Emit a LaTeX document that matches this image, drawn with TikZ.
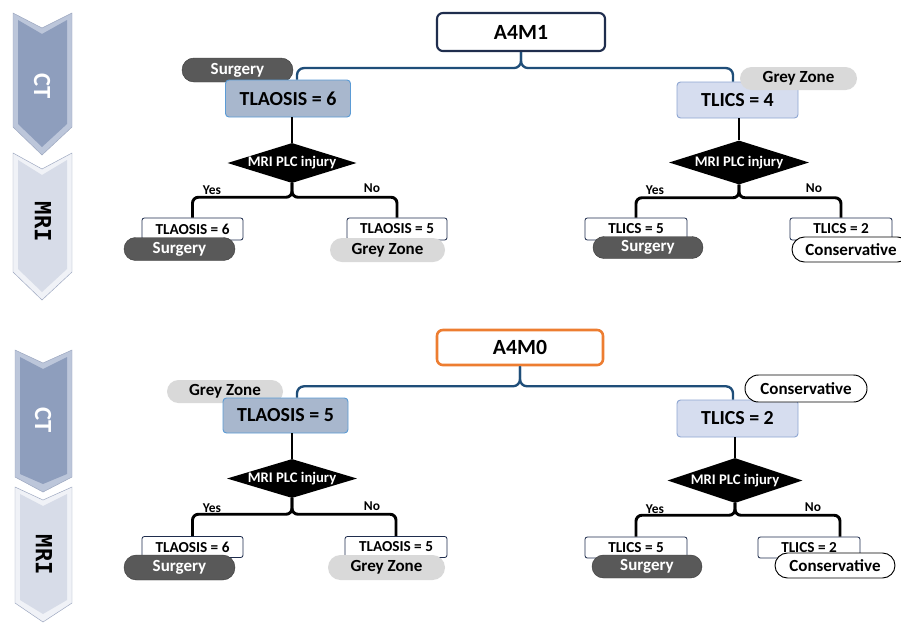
\documentclass[tikz,border=0pt]{standalone}
\usepackage{fontspec}
\setmainfont{Carlito}
\newfontfamily\mrifont{DejaVu Sans Mono}
\usetikzlibrary{shapes.geometric,shapes.misc}
\definecolor{ctblue}{HTML}{8E9EBD}
\definecolor{ctedge}{HTML}{BCC6DA}
\definecolor{mrifill}{HTML}{D7DCE8}
\definecolor{mriedge}{HTML}{F0F2F7}
\definecolor{chevline}{HTML}{9BA6BF}
\definecolor{navy}{HTML}{1F2D4D}
\definecolor{rootorange}{HTML}{ED7D31}
\definecolor{linkblue}{HTML}{1F4E79}
\definecolor{tlaofill}{HTML}{A8B7CD}
\definecolor{tlaoline}{HTML}{5B9BD5}
\definecolor{tlicsfill}{HTML}{D6DDEF}
\definecolor{tlicsline}{HTML}{8EA6D2}
\definecolor{surggrey}{HTML}{595959}
\definecolor{surgedge}{HTML}{3F3F3F}
\definecolor{zonegrey}{HTML}{D9D9D9}
\newcommand{\pxl}{0.03cm}
\begin{document}
\begin{tikzpicture}[x=\pxl,y=-\pxl,
  sz/.style 2 args={minimum width=#1*\pxl,minimum height=#2*\pxl},
  root/.style={draw,fill=white,rounded corners=5pt,inner sep=0pt,font=\bfseries\fontsize{18.5}{20}\selectfont},
  score/.style={draw,rounded corners=3pt,inner sep=0pt,line width=0.8pt,font=\bfseries\fontsize{17}{19}\selectfont},
  tlao/.style={score,fill=tlaofill,draw=tlaoline},
  tlics/.style={score,fill=tlicsfill,draw=tlicsline},
  res/.style={draw=navy,fill=white,rounded corners=2pt,inner sep=0pt,line width=0.7pt,font=\bfseries\fontsize{13}{15}\selectfont},
  pill/.style={rounded rectangle,inner sep=0pt,font=\bfseries\fontsize{14.5}{16}\selectfont},
  surg/.style={pill,fill=surggrey,draw=surgedge,text=white},
  grey/.style={pill,fill=zonegrey},
  cons/.style={pill,fill=white,draw=black,line width=0.8pt},
  decision/.style={diamond,fill=black,inner sep=0pt,label={[text=white,font=\bfseries\fontsize{12.5}{14}\selectfont]center:MRI PLC injury}},
  yn/.style={font=\bfseries\fontsize{11.5}{13}\selectfont},
  link/.style={draw=linkblue,line width=2pt,rounded corners=6pt},
  arm/.style={line width=2.5pt,rounded corners=5pt},
  ctlabel/.style={rotate=-90,text=white,font=\bfseries\fontsize{21}{23}\selectfont},
  mrilabel/.style={rotate=-90,font=\mrifont\bfseries\fontsize{19}{21}\selectfont}]
\useasboundingbox (0,0) rectangle (901,630);
\fill[white] (0,0) rectangle (901,630);

\filldraw[fill=ctedge,draw=chevline,thin] (13,13) -- (42,28) -- (72,13) -- (72,127) -- (42,155) -- (13,127) -- cycle;
\fill[ctblue] (18,20) -- (42,34) -- (67,20) -- (67,124) -- (42,147) -- (18,124) -- cycle;
\node[ctlabel] (ct1) at (42,86) {CT};
\filldraw[fill=mriedge,draw=chevline,thin] (13,153) -- (42,169) -- (72,153) -- (72,272) -- (42,300) -- (13,272) -- cycle;
\fill[mrifill] (18,160) -- (42,175) -- (67,160) -- (67,269) -- (42,292) -- (18,269) -- cycle;
\node[mrilabel] (mri1) at (43,222) {MRI};
\filldraw[fill=ctedge,draw=chevline,thin] (15,350) -- (43,363) -- (72,350) -- (72,477) -- (43,492) -- (15,477) -- cycle;
\fill[ctblue] (20,357) -- (43,369) -- (67,357) -- (67,474) -- (43,484) -- (20,474) -- cycle;
\node[ctlabel] (ct2) at (43,420) {CT};
\filldraw[fill=mriedge,draw=chevline,thin] (15,487) -- (43,500) -- (72,487) -- (72,603) -- (43,622) -- (15,603) -- cycle;
\fill[mrifill] (20,494) -- (43,506) -- (67,494) -- (67,600) -- (43,614) -- (20,600) -- cycle;
\node[mrilabel] (mri2) at (44,555) {MRI};

\node[root,draw=navy,line width=1.8pt,sz={168}{38}] (a4m1) at (521,32) {A4M1};
\node[surg,sz={111}{24}] (p1) at (237.5,70) {Surgery};
\node[tlao,sz={125}{37}] (t1) at (288,98.5) {TLAOSIS = 6};
\node[tlics,sz={121}{36}] (t2) at (737.5,100) {TLICS = 4};
\node[grey,sz={117}{23}] (p2) at (798.5,78.5) {Grey Zone};
\node[decision,sz={129}{40}] (d1) at (292,163) {};
\node[decision,sz={140}{44}] (d2) at (739,162.5) {};
\node[res,sz={101}{22}] (k1) at (192.5,229) {TLAOSIS = 6};
\node[surg,sz={111}{23}] (q1) at (179.5,249) {Surgery};
\node[res,sz={100}{22}] (k2) at (397,229) {TLAOSIS = 5};
\node[grey,sz={115}{24}] (q2) at (387.5,250) {Grey Zone};
\node[res,sz={102}{22}] (k3) at (636,229) {TLICS = 5};
\node[surg,sz={110}{22}] (q3) at (648,247.5) {Surgery};
\node[res,sz={102}{22}] (k4) at (841,229) {TLICS = 2};
\node[cons,sz={118}{25}] (q4) at (851,249.5) {Conservative};
\node[yn] (y1) at (212,190) {Yes};
\node[yn] (n1) at (372,188) {No};
\node[yn] (y2) at (655,190) {Yes};
\node[yn] (n2) at (814,188) {No};

\node[root,draw=rootorange,line width=2.2pt,sz={166}{35}] (a4m0) at (520,347.5) {A4M0};
\node[grey,sz={116}{23}] (p3) at (225,391.5) {Grey Zone};
\node[tlao,sz={125}{35}] (t3) at (285.5,415.5) {TLAOSIS = 5};
\node[tlics,sz={121}{37}] (t4) at (737.5,418.5) {TLICS = 2};
\node[cons,sz={122}{27}] (p4) at (806,388.5) {Conservative};
\node[decision,sz={130}{39}] (d3) at (292,478.5) {};
\node[decision,sz={135}{45}] (d4) at (735,480.5) {};
\node[res,sz={101}{21}] (k5) at (192.5,547) {TLAOSIS = 6};
\node[surg,sz={111}{25}] (q5) at (179.5,567.5) {Surgery};
\node[res,sz={102}{21}] (k6) at (396,547) {TLAOSIS = 5};
\node[grey,sz={117}{25}] (q6) at (386.5,567.5) {Grey Zone};
\node[res,sz={102}{21}] (k7) at (636,547.5) {TLICS = 5};
\node[surg,sz={110}{23}] (q7) at (647,566.5) {Surgery};
\node[res,sz={102}{21}] (k8) at (809,547.5) {TLICS = 2};
\node[cons,sz={120}{25}] (q8) at (835,565.5) {Conservative};
\node[yn] (y3) at (212,508) {Yes};
\node[yn] (n3) at (372,506) {No};
\node[yn] (y4) at (655,509) {Yes};
\node[yn] (n4) at (813,507) {No};

\draw[link] (a4m1.south) -- ++(0,16) -| ([xshift=0.27cm]t1.north);
\draw[link] (a4m1.south) -- ++(0,16) -| ([xshift=-0.135cm]t2.north);
\draw[arm] (d1.north |- t1.south) -- (d1.north);
\draw[arm] (d2.north |- t2.south) -- (d2.north);
\draw[arm] (d1.south) -- ++(0,14) -| (k1.north);
\draw[arm] (d1.south) -- ++(0,14) -| (k2.north);
\draw[arm] (d2.south) -- ++(0,13) -| (k3.north);
\draw[arm] (d2.south) -- ++(0,13) -| (k4.north);

\draw[link] (a4m0.south) -- ++(0,20) -| ([xshift=0.345cm]t3.north);
\draw[link] (a4m0.south) -- ++(0,20) -| ([xshift=-0.135cm]t4.north);
\draw[arm] (d3.north |- t3.south) -- (d3.north);
\draw[arm] (d4.north |- t4.south) -- (d4.north);
\draw[arm] (d3.south) -- ++(0,16) -| (k5.north);
\draw[arm] (d3.south) -- ++(0,16) -| (k6.north);
\draw[arm] (d4.south) -- ++(0,12) -| (k7.north);
\draw[arm] (d4.south) -- ++(0,12) -| ([xshift=0.93cm]k8.north);
\end{tikzpicture}
\end{document}
